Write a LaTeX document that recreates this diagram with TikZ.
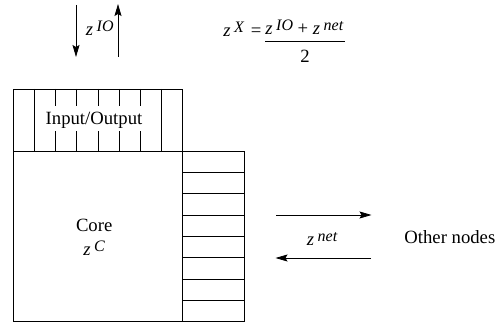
\documentclass[tikz,border=0pt]{standalone}
\usepackage{fontspec}
\setmainfont{Liberation Serif}
\usetikzlibrary{arrows.meta,calc}
\newcommand\zsp[1]{\textit{z}\kern3.5pt\raisebox{4pt}{\fontsize{16}{16}\selectfont\textit{#1}}}
\begin{document}
\begin{tikzpicture}[x=1pt,y=-1pt,line width=0.8pt,
  font=\fontsize{18.7}{20}\selectfont,
  arr/.style={-{Stealth[length=12pt,width=7pt,inset=2pt]}},
  box/.style={draw,inner sep=0pt,anchor=north west},
  lbl/.style={inner sep=0pt,anchor=base west}]
\useasboundingbox (0,0) rectangle (495,323);
% boxes
\node[box,minimum width=169pt,minimum height=62pt] (io) at (13,89) {};
\node[box,minimum width=169pt,minimum height=170pt] (core) at (13,151) {};
\node[box,minimum width=62pt,minimum height=170pt] (net) at (182,151) {};
% grid lines
\foreach \k in {1,...,7}{
  \draw ($(io.north west)!\k/8!(io.north east)$) -- ($(io.south west)!\k/8!(io.south east)$);
  \draw ($(net.north west)!\k/8!(net.south west)$) -- ($(net.north east)!\k/8!(net.south east)$);
}
\node[fill=white,inner xsep=2pt,inner ysep=0pt,text height=19pt,text depth=6pt,anchor=base] (iolabel) at (94,125) {Input/Output};
% core labels
\node[inner sep=0pt,anchor=base] (corelabel) at (94.2,231.7) {Core};
\node[lbl] (zc) at (83,255) {\zsp{C}};
% IO arrows
\coordinate (d1) at (76,5); \coordinate (d2) at (76,57);
\coordinate (u1) at (118,57); \coordinate (u2) at (118,4);
\draw[arr] (d1) -- (d2);
\draw[arr] (u1) -- (u2);
\node[lbl] (zio) at (85.5,36) {\zsp{IO}};
% formula
\node[lbl] (zx) at (223,37) {\zsp{X}};
\node[lbl] (eq) at (250.5,37) {=};
\node[lbl] (numer) at (265,35) {\zsp{IO} + \zsp{net}};
\coordinate (barl) at (265,41.7); \coordinate (barr) at (345,41.7);
\draw[line width=0.9pt] (barl) -- (barr);
\node[inner sep=0pt,anchor=base] (denom) at (305,63) {2};
% net arrows
\coordinate (r1) at (276,215); \coordinate (r2) at (371.5,215);
\coordinate (l1) at (371,258); \coordinate (l2) at (275.5,258);
\draw[arr] (r1) -- (r2);
\draw[arr] (l1) -- (l2);
\node[lbl] (znet) at (306.5,245) {\zsp{net}};
\node[lbl] (other) at (404,243.5) {Other nodes};
\end{tikzpicture}
\end{document}
